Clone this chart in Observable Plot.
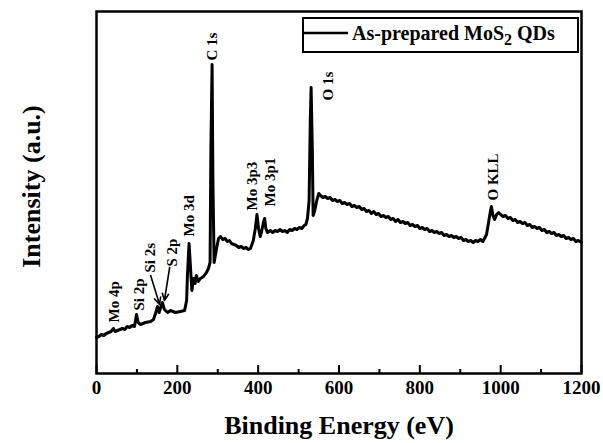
<!DOCTYPE html>
<html>
<head>
<meta charset="utf-8">
<script src="https://cdn.jsdelivr.net/npm/d3@7"></script>
<script src="https://cdn.jsdelivr.net/npm/@observablehq/plot@0.6"></script>
<style>
  body { margin: 0; background: #fff; }
  #chart svg { overflow: visible; display: block; }
  #chart svg text { font-family: "Liberation Serif", "Times New Roman", serif; }
</style>
</head>
<body>
<div id="chart"></div>
<script>
// Binding energy (eV)
const energy = [0,6,12,18,24,30,36,42,46,52,58,64,70,76,82,88,94,99,103,109,121,134,141,146,151,155,158,163,168,176,183,195,208,218,223,225,229,233,236,240,244,247,252,257,265,272,277,281,283,286,288,291,294,297,302,307,312,318,324,329,334,340,346,352,358,364,370,376,381,388,393,397,401,405,408,413,416,419,423,430,436,442,448,454,460,466,472,478,484,490,496,502,508,514,518,522,526,529,531,534,536,540,545,550,554,560,566,572,578,584,590,596,602,608,614,620,626,632,638,644,650,656,662,668,674,680,686,692,698,704,710,716,722,728,734,740,746,752,758,764,770,776,782,788,794,800,806,812,818,824,830,836,842,848,854,860,866,872,878,884,890,896,902,908,914,920,926,932,938,944,950,956,960,965,970,975,977,981,985,990,995,1000,1006,1012,1018,1024,1030,1036,1042,1048,1054,1060,1066,1072,1078,1084,1090,1096,1102,1108,1114,1120,1126,1132,1138,1144,1150,1156,1162,1168,1174,1180,1186,1192,1200];
// Intensity (a.u.)
const intensity = [36,37,39,38,40,41,42,45,42,43,44,45,44,47,46,48,47,59,51,49,51,52,54,60,67,61,65,71,64,61,63,61,62,63,73,98,130,103,83,95,90,98,92,95,97,101,105,111,223,309,193,111,118,125,135,137,134,135,132,133,130,129,128,126,127,125,126,124,125,133,145,159,145,137,141,151,155,145,141,143,141,143,142,144,142,143,141,144,143,145,144,146,145,148,149,155,173,253,286,223,158,163,173,180,178,176,177,175,176,173,174,172,173,170,171,169,170,167,168,166,167,164,165,162,163,160,162,159,160,157,158,156,157,154,155,152,154,151,152,150,151,148,149,147,148,145,146,144,145,142,143,141,142,140,141,138,139,137,138,136,137,135,136,133,134,132,133,131,133,132,134,132,135,139,151,163,167,158,154,159,161,159,157,158,155,156,153,154,151,152,150,151,148,149,146,147,145,146,143,144,141,142,140,141,138,139,137,138,135,136,134,135,132,133,131];

const peakNames = ["Mo 4p","Si 2p","Si 2s","S 2p","Mo 3d","C 1s","Mo 3p3","Mo 3p1","O 1s","O KLL"];
const labelEnergy = [44,105,134,188,230,285,386,430,574,982];
const labelIntensity = [51,63,101,107,137,313,163,167,273,173];

const arrowFromE = [134,181];
const arrowFromI = [98,106];
const arrowToE = [156,168];
const arrowToI = [69,73];

const majorTicks = [0,200,400,600,800,1000,1200];
const minorTicks = [100,300,500,700,900,1100];
const legendLabel = "As-prepared MoS";
const xLabel = "Binding Energy (eV)";
const yLabel = "Intensity (a.u.)";

const spectrum = energy.map((e, i) => ({e, v: intensity[i]}));
const labels = peakNames.map((n, i) => ({n, e: labelEnergy[i], v: labelIntensity[i]}));
const arrows = arrowFromE.map((e, i) => ({x1: e, y1: arrowFromI[i], x2: arrowToE[i], y2: arrowToI[i]}));

const serif = "Liberation Serif";

const plot = Plot.plot({
  width: 603,
  height: 443,
  marginLeft: 96,
  marginRight: 22,
  marginTop: 11,
  marginBottom: 70,
  style: {fontFamily: serif, background: "#fff", color: "#000"},
  x: {domain: [0, 1200], axis: null},
  y: {domain: [0, 362], axis: null},
  marks: [
    Plot.tickX(majorTicks, {x: d => d, insetTop: 354, strokeWidth: 2, stroke: "#000"}),
    Plot.tickX(minorTicks, {x: d => d, insetTop: 358, strokeWidth: 2, stroke: "#000"}),
    Plot.axisX({ticks: majorTicks, tickSize: 0, tickPadding: 7, fontSize: 19, fontWeight: "bold", fontFamily: serif, tickFormat: d => String(d), label: null}),
    Plot.line(spectrum, {x: "e", y: "v", stroke: "#000", strokeWidth: 3, strokeLinejoin: "round"}),
    Plot.text(labels, {x: "e", y: "v", text: "n", rotate: -90, textAnchor: "start", fontSize: 15, fontWeight: "bold", fontFamily: serif, fill: "#000"}),
    Plot.arrow(arrows, {x1: "x1", y1: "y1", x2: "x2", y2: "y2", stroke: "#000", strokeWidth: 1.6, headLength: 7, headAngle: 50}),
    Plot.text([xLabel], {frameAnchor: "bottom", dy: 60, fontSize: 26, fontWeight: "bold", fontFamily: serif, fill: "#000"}),
    Plot.text([yLabel], {frameAnchor: "left", dx: -65, dy: -6, rotate: -90, textAnchor: "middle", fontSize: 26, fontWeight: "bold", fontFamily: serif, fill: "#000"}),
    Plot.frame({stroke: "#000", strokeWidth: 2.5})
  ]
});

document.getElementById("chart").appendChild(plot);

// Legend inside the frame (top right)
const svg = d3.select(plot);
const g = svg.append("g").attr("font-family", serif).attr("text-anchor", "start");
g.append("rect").attr("x", 303).attr("y", 18).attr("width", 275).attr("height", 34)
  .attr("fill", "#fff").attr("stroke", "#000").attr("stroke-width", 2);
g.append("line").attr("x1", 303).attr("x2", 348).attr("y1", 33).attr("y2", 33)
  .attr("stroke", "#000").attr("stroke-width", 2.6);
const t = g.append("text").attr("x", 352).attr("y", 40).attr("font-size", 20).attr("font-weight", "bold").attr("fill", "#000").attr("text-anchor", "start");
t.append("tspan").text(legendLabel);
t.append("tspan").attr("dy", 5).attr("font-size", 16).text("2");
t.append("tspan").attr("dy", -5).text(" QDs");
</script>
</body>
</html>
